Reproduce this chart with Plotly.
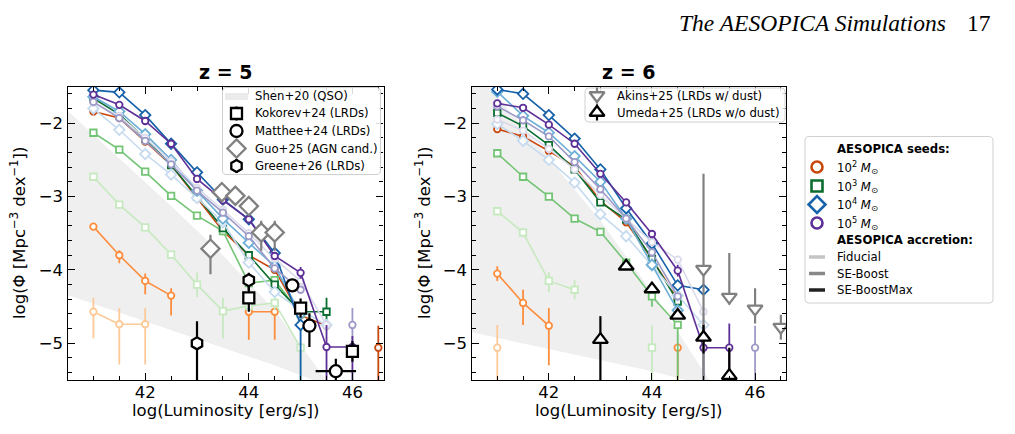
import math
import plotly.graph_objects as go

# ---------------- data ----------------
L_BINS = [41.0, 41.5, 42.0, 42.5, 43.0, 43.5, 44.0, 44.5, 45.0, 45.5, 46.0, 46.5]
N = None

# z = 5 model luminosity functions  (fid / boost / boostmax for each seed mass)
z5_m2 = [[-4.57, -4.74, -4.74, N, N, N, N, N, N, N, N, N],
         [-3.41, -3.80, -4.15, -4.35, N, N, -4.57, -4.57, N, N, N, N],
         [-1.84, -1.93, -2.25, -2.57, -3.02, -3.47, -3.80, -4.00, -4.62, -4.76, N, -5.06]]
z5_m3 = [[-2.73, -3.11, -3.42, -3.79, -4.20, -4.56, -4.49, -4.45, -5.06, N, N, N],
         [-2.13, -2.36, -2.66, -2.99, -3.26, -3.47, -4.18, -4.14, -4.60, N, N, N],
         [-1.66, -1.88, -2.21, -2.57, -3.00, -3.43, -3.80, -4.20, -4.57, -4.57, N, N]]
z5_m4 = [[-1.80, -2.09, -2.42, -2.70, -3.02, -3.35, -3.90, -4.30, -4.55, -4.75, N, N],
         [-1.64, -1.84, -2.15, -2.50, -2.92, -3.30, -3.63, -3.95, -4.60, N, N, N],
         [-1.55, -1.58, -1.89, -2.28, -2.67, -3.04, -3.31, -3.77, -4.75, N, N, N]]
z5_m5 = [[-1.72, -1.90, -2.20, -2.52, -2.88, -3.18, -3.50, -3.85, -4.15, -4.75, N, N],
         [-1.71, -1.93, -2.24, -2.56, -2.92, -3.22, -3.54, -3.98, -4.27, N, -4.75, N],
         [-1.61, -1.75, -1.97, -2.28, -2.76, -3.05, -3.31, -3.81, -4.04, -5.05, -5.05, N]]

# z = 6 model luminosity functions
z6_m2 = [[-5.06, N, N, N, N, N, N, N, N, N, N, N],
         [-4.05, -4.45, -4.76, N, N, N, N, -5.06, N, N, N, N],
         [-2.08, -2.18, -2.38, -2.59, -3.06, -3.35, -3.85, -4.40, N, N, N, N]]
z6_m3 = [[-3.20, -3.49, -4.15, -4.27, N, N, -5.06, N, N, N, N, N],
         [-2.41, -2.73, -3.00, -3.30, -3.48, -3.90, -4.36, -4.75, N, N, N, N],
         [-1.86, -2.04, -2.30, -2.63, -3.08, -3.31, -3.85, -4.43, N, N, N, N]]
z6_m4 = [[-2.01, -2.24, -2.50, -2.81, -3.24, -3.54, -3.94, -4.35, -4.75, N, N, N],
         [-1.57, -1.90, -2.13, -2.45, -2.80, -3.30, -3.93, -4.55, N, N, N, N],
         [-1.54, -1.60, -1.89, -2.21, -2.63, -3.16, -3.64, -4.21, -4.27, N, N, N]]
z6_m5 = [[-1.95, -2.10, -2.35, -2.63, -2.98, -3.30, -3.62, -3.86, -4.57, N, N, N],
         [-1.77, -1.96, -2.18, -2.53, -2.90, -3.30, -3.76, -4.36, N, N, -5.06, N],
         [-1.73, -1.79, -2.02, -2.28, -2.69, -3.08, -3.51, -4.01, -5.06, -5.06, N, N]]

# model error bars: {bin: (up, down)}
z5_err = {
    ("m2", 0): {41.0: (0.19, 0.36), 41.5: (0.22, 0.55), 42.0: (0.22, 0.55)},
    ("m2", 1): {41.5: (0.07, 0.11), 42.0: (0.10, 0.18), 42.5: (0.10, 0.27), 44.0: (0.0, 0.38), 44.5: (0.0, 0.38)},
    ("m2", 2): {46.5: (0.30, 1.0)},
    ("m3", 0): {43.0: (0.17, 0.17), 43.5: (0.18, 0.37), 44.5: (0.10, 0.10), 45.0: (0.0, 1.0)},
    ("m3", 2): {45.5: (0.19, 0.25)},
    ("m4", 2): {45.0: (0.0, 1.0)},
    ("m5", 1): {46.0: (0.23, 0.30)},
    ("m5", 2): {45.0: (0.08, 0.08), 45.5: (0.30, 1.0), 46.0: (0.15, 1.0)},
}
z6_err = {
    ("m2", 0): {41.0: (0.31, 1.0)},
    ("m2", 1): {41.0: (0.10, 0.10), 41.5: (0.18, 0.30), 42.0: (0.24, 0.54), 44.5: (0.0, 1.0)},
    ("m3", 0): {42.0: (0.12, 0.15), 42.5: (0.13, 0.13), 44.0: (0.30, 1.0)},
    ("m3", 1): {44.0: (0.14, 0.14), 44.5: (0.0, 1.0)},
    ("m5", 1): {46.0: (0.30, 1.0)},
    ("m5", 2): {44.5: (0.08, 0.08), 45.0: (0.33, 1.0), 45.5: (0.33, 1.0)},
}

# Shen+20 QSO band
shen_z5_x = [40.5, 41.5, 42.5, 43.5, 44.5, 45.6]
shen_z5_hi = [-1.83, -2.48, -3.13, -3.80, -4.55, -5.60]
shen_z5_lo = [-4.34, -4.58, -4.82, -5.06, -5.30, -5.60]
shen_z6_x = [40.5, 41.5, 42.5, 43.0, 44.0, 45.2]
shen_z6_hi = [-1.20, -2.05, -2.90, -3.33, -4.30, -5.60]
shen_z6_lo = [-4.85, -5.00, -5.15, -5.23, -5.38, -5.60]

# observations z = 5
kok_x = [44.0, 45.0, 46.0]
kok_y = [-4.38, -4.52, -5.11]
kok_eu = [0.16, 0.13, 0.14]
kok_ed = [0.19, 0.13, 0.14]
mat_x = [44.84, 45.17, 45.68]
mat_y = [-4.21, -4.76, -5.38]
mat_eu = [0.05, 0.17, 0.17]
mat_ed = [0.05, 0.29, 0.50]
mat_ex = [0.0, 0.0, 0.39]
guo_x = [43.26, 43.48, 43.74, 44.0, 44.24, 44.5]
guo_y = [-3.71, -2.94, -2.99, -3.13, -3.49, -3.49]
guo_eu = [0.19, 0.0, 0.0, 0.0, 0.16, 0.16]
guo_ed = [0.35, 0.0, 0.0, 0.0, 0.25, 0.25]
gre_x = [43.0, 44.0]
gre_y = [-5.0, -4.14]
gre_eu = [0.30, 0.10]
gre_ed = [1.0, 0.14]

# observations z = 6
aki_x = [45.0, 45.5, 46.0, 46.5]
aki_y = [-3.99, -4.37, -4.53, -4.78]
aki_eu = [1.30, 0.60, 0.28, 0.17]
aki_ed = [1.60, 0.10, 0.20, 0.17]
ume_x = [43.0, 43.5, 44.0, 44.5, 45.0, 45.5]
ume_y = [-4.95, -3.95, -4.26, -4.62, -4.92, -5.44]
ume_eu = [0.32, 0.05, 0.05, 0.05, 0.17, 0.38]
ume_ed = [1.0, 0.05, 0.05, 0.05, 0.22, 0.50]

SEED_LABELS = ["10<sup>2</sup> <i>M</i><sub>⊙</sub>", "10<sup>3</sup> <i>M</i><sub>⊙</sub>",
               "10<sup>4</sup> <i>M</i><sub>⊙</sub>", "10<sup>5</sup> <i>M</i><sub>⊙</sub>"]
ACC_LABELS = ["Fiducial", "SE-Boost", "SE-BoostMax"]
OBS5_LABELS = ["Shen+20 (QSO)", "Kokorev+24 (LRDs)", "Matthee+24 (LRDs)", "Guo+25 (AGN cand.)", "Greene+26 (LRDs)"]
OBS6_LABELS = ["Akins+25 (LRDs w/ dust)", "Umeda+25 (LRDs w/o dust)"]

# ---------------- styles ----------------
COLORS = {
    "m2": ["#fdc997", "#fd8d3c", "#c8470c"],
    "m3": ["#c7e9c0", "#74c476", "#0b6e30"],
    "m4": ["#c6dbef", "#6baed6", "#1661a9"],
    "m5": ["#dadaeb", "#9e9ac8", "#5e2f96"],
}
SYMBOLS = {"m2": "circle", "m3": "square", "m4": "diamond", "m5": "circle"}
MSIZE = {"m2": 6.5, "m3": 6.5, "m4": 8, "m5": 6.5}
ACC_GRAY = ["#c4c4c4", "#888888", "#222222"]
FONT = "DejaVu Sans"
LEGFONT = 11.7

fig = go.Figure()

def add_band(x, hi, lo, xa, ya):
    fig.add_trace(go.Scatter(
        x=x + x[::-1], y=hi + lo[::-1], fill="toself", fillcolor="#efefef",
        line=dict(width=0, color="#efefef"), mode="lines",
        showlegend=False, xaxis=xa, yaxis=ya, hoverinfo="skip"))

def add_models(series, errs, xa, ya):
    for key in ["m2", "m3", "m4", "m5"]:
        for k in range(3):
            y = series[key][k]
            e = errs.get((key, k), {})
            up = [e.get(b, (0, 0))[0] for b in L_BINS]
            dn = [e.get(b, (0, 0))[1] for b in L_BINS]
            c = COLORS[key][k]
            fig.add_trace(go.Scatter(
                x=L_BINS, y=y, mode="lines+markers", xaxis=xa, yaxis=ya,
                line=dict(color=c, width=1.6),
                marker=dict(symbol=SYMBOLS[key], size=MSIZE[key], color="white",
                            line=dict(color=c, width=1.8)),
                error_y=dict(type="data", symmetric=False, array=up, arrayminus=dn,
                             color=c, thickness=1.8, width=0),
                showlegend=False, hoverinfo="skip"))

def add_obs(x, y, eu, ed, symbol, color, size, xa, ya, ex=None):
    kw = {}
    if ex is not None:
        kw["error_x"] = dict(type="data", array=ex, color=color, thickness=2.2, width=0)
    fig.add_trace(go.Scatter(
        x=x, y=y, mode="markers", xaxis=xa, yaxis=ya, showlegend=False,
        marker=dict(symbol=symbol, size=size, color="white", line=dict(color=color, width=2.3)),
        error_y=dict(type="data", symmetric=False, array=eu, arrayminus=ed,
                     color=color, thickness=2.2, width=0),
        hoverinfo="skip", **kw))

OBS5_STYLE = [("square", "black", 11), ("circle", "black", 12), ("diamond", "#808080", 14), ("hexagon", "black", 12)]
OBS6_STYLE = [("triangle-down", "#808080", 13), ("triangle-up", "black", 13)]

# left panel (z = 5)
add_band(shen_z5_x, shen_z5_hi, shen_z5_lo, "x", "y")
add_models({"m2": z5_m2, "m3": z5_m3, "m4": z5_m4, "m5": z5_m5}, z5_err, "x", "y")
add_obs(kok_x, kok_y, kok_eu, kok_ed, *OBS5_STYLE[0], "x", "y")
add_obs(mat_x, mat_y, mat_eu, mat_ed, *OBS5_STYLE[1], "x", "y", ex=mat_ex)
add_obs(guo_x, guo_y, guo_eu, guo_ed, *OBS5_STYLE[2], "x", "y")
add_obs(gre_x, gre_y, gre_eu, gre_ed, *OBS5_STYLE[3], "x", "y")

# right panel (z = 6)
add_band(shen_z6_x, shen_z6_hi, shen_z6_lo, "x2", "y2")
add_models({"m2": z6_m2, "m3": z6_m3, "m4": z6_m4, "m5": z6_m5}, z6_err, "x2", "y2")
add_obs(aki_x, aki_y, aki_eu, aki_ed, *OBS6_STYLE[0], "x2", "y2")
add_obs(ume_x, ume_y, ume_eu, ume_ed, *OBS6_STYLE[1], "x2", "y2")

# ---------------- legends (drawn on a pixel overlay axis) ----------------
W, H = 1015, 434
OFF = 8   # the page puts the figure 8 px in from the window corner

def px(xp):
    return (xp - OFF) / W
def py(yp):
    return 1 - (yp - OFF) / H

ann = []

def lg_box(x0, y0, x1, y1, r=3.5):
    xs, ys = [], []
    corners = [(x1 - r, y0 + r, -90), (x1 - r, y1 - r, 0), (x0 + r, y1 - r, 90), (x0 + r, y0 + r, 180)]
    for cx, cy, a0 in corners:
        for s in range(7):
            a = math.radians(a0 + s * 15)
            xs.append(cx + r * math.cos(a))
            ys.append(cy + r * math.sin(a))
    xs.append(xs[0]); ys.append(ys[0])
    fig.add_trace(go.Scatter(x=xs, y=ys, xaxis="x3", yaxis="y3", mode="lines", fill="toself",
                             fillcolor="rgba(255,255,255,0.85)", line=dict(color="#d0d0d0", width=1),
                             showlegend=False, hoverinfo="skip"))

def lg_marker(xc, yc, symbol, color, size, lw=2.3, bar=0):
    if bar:
        fig.add_trace(go.Scatter(x=[xc, xc], y=[yc - bar, yc + bar], xaxis="x3", yaxis="y3", mode="lines",
                                 line=dict(color=color, width=2.2), showlegend=False, hoverinfo="skip"))
    fig.add_trace(go.Scatter(x=[xc], y=[yc], xaxis="x3", yaxis="y3", mode="markers",
                             marker=dict(symbol=symbol, size=size, color="white", line=dict(color=color, width=lw)),
                             showlegend=False, hoverinfo="skip"))

def lg_line(x0, x1, yc, color, width):
    fig.add_trace(go.Scatter(x=[x0, x1], y=[yc, yc], xaxis="x3", yaxis="y3", mode="lines",
                             line=dict(color=color, width=width), showlegend=False, hoverinfo="skip"))

def lg_text(x, y, text):
    ann.append(dict(x=px(x), y=py(y), xref="paper", yref="paper", text=text, showarrow=False,
                    xanchor="left", yanchor="middle", font=dict(family=FONT, size=LEGFONT, color="black")))

# left legend
lg_box(222.5, 87.5, 380.5, 174.5)
rows5 = [96.5, 113.5, 131, 148.5, 166]
fig.add_trace(go.Scatter(x=[225, 248, 248, 225, 225], y=[93, 93, 100, 100, 93], xaxis="x3", yaxis="y3",
                         mode="lines", fill="toself", fillcolor="#ebebeb", line=dict(width=0, color="#ebebeb"),
                         showlegend=False, hoverinfo="skip"))
for (sym, col, sz), yy in zip(OBS5_STYLE, rows5[1:]):
    lg_marker(236.5, yy, sym, col, sz, bar=7)
for lab, yy in zip(OBS5_LABELS, rows5):
    lg_text(252.5, yy, lab)

# right legend
lg_box(585, 88, 785, 122)
rows6 = [95.5, 112.5]
for (sym, col, sz), yy in zip(OBS6_STYLE, rows6):
    lg_marker(597, yy, sym, col, sz, bar=8)
for lab, yy in zip(OBS6_LABELS, rows6):
    lg_text(614.5, yy, lab)

# AESOPICA legend
lg_box(805, 136.5, 993, 303)
lg_text(834.5, 148.5, "<b>AESOPICA seeds:</b>")
for key, lab, yy in zip(["m2", "m3", "m4", "m5"], SEED_LABELS, [167, 186, 204.5, 223]):
    lg_marker(817, yy, SYMBOLS[key], COLORS[key][2], 13 if key == "m4" else 11, lw=2.6)
    lg_text(834.5, yy, lab)
lg_text(834.5, 240, "<b>AESOPICA accretion:</b>")
for g, lab, yy in zip(ACC_GRAY, ACC_LABELS, [257, 273.5, 290]):
    lg_line(809, 825, yy, g, 3.5)
    lg_text(834.5, yy, lab)

# ---------------- layout ----------------
axis_common = dict(showgrid=False, zeroline=False, showline=True, linecolor="black",
                   linewidth=1.3, mirror="allticks", ticks="inside", tickcolor="black",
                   tickwidth=1.3, ticklen=7,
                   tickfont=dict(family=FONT, size=16.5, color="black"))
xax = dict(axis_common, range=[40.5, 46.6], tick0=42, dtick=2, ticklabelstandoff=-3,
           minor=dict(dtick=0.5, ticks="inside", ticklen=4, tickcolor="black", tickwidth=1))
yax = dict(axis_common, range=[-5.5, -1.5], tick0=-2, dtick=1,
           minor=dict(dtick=0.2, ticks="inside", ticklen=4, tickcolor="black", tickwidth=1))

fig.update_layout(
    width=W, height=H, margin=dict(l=0, r=0, t=0, b=0),
    paper_bgcolor="white", plot_bgcolor="rgba(0,0,0,0)",
    font=dict(family=FONT, color="black"),
    showlegend=False,
    xaxis=dict(xax, domain=[px(67.5), px(383.5)], anchor="y"),
    yaxis=dict(yax, domain=[py(380), py(86.5)], anchor="x"),
    xaxis2=dict(xax, domain=[px(471.5), px(786)], anchor="y2"),
    yaxis2=dict(yax, domain=[py(380), py(86.5)], anchor="x2"),
    xaxis3=dict(domain=[0, 1], range=[OFF, OFF + W], visible=False, anchor="y3", fixedrange=True),
    yaxis3=dict(domain=[0, 1], range=[OFF + H, OFF], visible=False, anchor="x3", fixedrange=True),
)

for cx, t in [((67.5 + 383.5) / 2, "z = 5"), ((471.5 + 786) / 2, "z = 6")]:
    ann.append(dict(x=px(cx), y=py(72), xref="paper", yref="paper", text=f"<b>{t}</b>",
                    showarrow=False, font=dict(family=FONT, size=19), xanchor="center", yanchor="middle"))
    ann.append(dict(x=px(cx), y=py(410.5), xref="paper", yref="paper", text="log(Luminosity [erg/s])",
                    showarrow=False, font=dict(family=FONT, size=16.5), xanchor="center", yanchor="middle"))
for lx in [18, 423]:
    ann.append(dict(x=px(lx), y=py(233), xref="paper", yref="paper",
                    text="log(Φ [Mpc<sup>−3</sup> dex<sup>−1</sup>])", textangle=-90,
                    showarrow=False, font=dict(family=FONT, size=16.5), xanchor="center", yanchor="middle"))
ann.append(dict(x=px(948), y=1, xref="paper", yref="paper", text="<i>The AESOPICA Simulations</i>",
                showarrow=False, font=dict(family="Liberation Serif", size=23.5), xanchor="right", yanchor="top"))
ann.append(dict(x=px(979), y=1, xref="paper", yref="paper", text="17",
                showarrow=False, font=dict(family="Liberation Serif", size=23.5), xanchor="center", yanchor="top"))
fig.update_layout(annotations=ann)

fig.write_html("out.html")
